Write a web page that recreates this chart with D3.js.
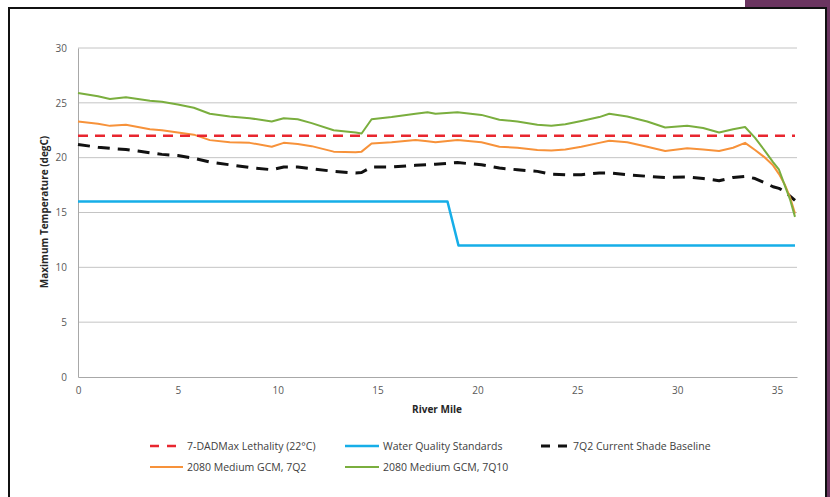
<!DOCTYPE html>
<html><head><meta charset="utf-8">
<script src="https://cdn.jsdelivr.net/npm/d3@7"></script>
<style>body{margin:0;background:#fff}svg{display:block}</style>
</head><body>
<svg id="c" width="830" height="497"></svg>
<script>
const miles = [0,1,1.6,2.4,3,3.6,4.2,5,5.8,6.6,7.6,8.6,9.7,10.3,11,11.7,12.8,13.9,14.2,14.7,15.7,16.9,17.5,17.9,19,20.2,21.1,22,23,23.7,24.4,25.2,26.1,26.6,27.5,28.5,29.4,30.5,31.3,32.1,32.8,33.4,33.9,34.4,34.8,35.1,35.4,35.65,35.9];
const gcm7Q10 = [25.9,25.6,25.35,25.5,25.35,25.2,25.1,24.85,24.55,24.0,23.75,23.6,23.3,23.6,23.5,23.15,22.5,22.3,22.2,23.5,23.7,24.0,24.15,24.0,24.15,23.9,23.45,23.3,23.0,22.9,23.05,23.35,23.7,24.0,23.75,23.3,22.75,22.9,22.7,22.3,22.6,22.8,21.8,20.6,19.6,18.9,17.4,16.2,14.6];
const gcm7Q2 = [23.3,23.1,22.9,23.0,22.8,22.6,22.5,22.3,22.1,21.6,21.4,21.35,21.0,21.35,21.25,21.05,20.55,20.5,20.55,21.3,21.4,21.6,21.5,21.4,21.6,21.4,21.0,20.9,20.7,20.65,20.75,21.0,21.35,21.55,21.4,21.0,20.6,20.85,20.75,20.6,20.9,21.35,20.7,20.0,19.3,18.5,17.5,16.4,14.9];
const baseline7Q2 = [21.2,20.95,20.85,20.75,20.6,20.45,20.3,20.2,19.95,19.6,19.35,19.1,18.9,19.15,19.15,19.0,18.75,18.6,18.65,19.15,19.15,19.3,19.35,19.4,19.55,19.35,19.05,18.9,18.75,18.5,18.45,18.45,18.6,18.6,18.45,18.3,18.2,18.25,18.1,17.9,18.2,18.3,18.1,17.7,17.35,17.2,16.9,16.5,16.1];
const wqsMiles = [0,18.5,19.05,35.9];
const wqsValues = [16,16,12,12];
const lethalityMiles = [0,35.9];
const lethalityValues = [22,22];
const xTicks = [0,5,10,15,20,25,30,35];
const yTicks = [0,5,10,15,20,25,30];
const legendLabels = ["7-DADMax Lethality (22\u00B0C)","Water Quality Standards","7Q2 Current Shade Baseline","2080 Medium GCM, 7Q2","2080 Medium GCM, 7Q10"];

const svg = d3.select("#c");
const font = "'Open Sans', 'Noto Sans', sans-serif";
svg.append("rect").attr("width",830).attr("height",497).attr("fill","#fff");
// frame & purple accents
svg.append("rect").attr("x",745).attr("y",0).attr("width",85).attr("height",8).attr("fill","#6b3560");
svg.append("rect").attr("x",826).attr("y",0).attr("width",4).attr("height",497).attr("fill","#6b3560");
svg.append("rect").attr("x",9).attr("y",8).attr("width",817).attr("height",500).attr("fill","none").attr("stroke","#111").attr("stroke-width",2);

const x = d3.scaleLinear().domain([0,36]).range([78,797]);
const y = d3.scaleLinear().domain([0,30]).range([377,48]);

// gridlines
svg.append("g").selectAll("line").data(yTicks.filter(d=>d>0)).join("line")
  .attr("x1",x(0)).attr("x2",x(36)).attr("y1",d=>y(d)).attr("y2",d=>y(d))
  .attr("stroke","#c4c4c4").attr("stroke-width",1);

const ya = svg.append("g").attr("transform",`translate(${x(0)},0)`)
  .call(d3.axisLeft(y).tickValues(yTicks).tickSize(0).tickPadding(11));
ya.select(".domain").attr("stroke","#a8a8a8");
ya.selectAll("text").attr("font-family",font).attr("font-size",10).attr("fill","#595959");

const xa = svg.append("g").attr("transform",`translate(0,${y(0)})`)
  .call(d3.axisBottom(x).tickValues(xTicks).tickSize(0).tickPadding(10));
xa.select(".domain").attr("stroke","#a8a8a8");
xa.selectAll("text").attr("font-family",font).attr("font-size",10).attr("fill","#595959");

svg.append("text").attr("x",437).attr("y",413).attr("text-anchor","middle")
  .attr("font-family",font).attr("font-size",10).attr("font-weight","bold").attr("fill","#262626").text("River Mile");
svg.append("text").attr("transform","translate(48,212) rotate(-90)").attr("text-anchor","middle")
  .attr("font-family",font).attr("font-size",10).attr("font-weight","bold").attr("fill","#262626").text("Maximum Temperature (degC)");

const line = d3.line().x(d=>x(d[0])).y(d=>y(d[1]));
const zip = (a,b)=>a.map((m,i)=>[m,b[i]]);

const series = [
  {data: zip(miles,baseline7Q2), color:"#111", w:3, dash:"12,8"},
  {data: zip(wqsMiles,wqsValues), color:"#16aee8", w:2.5, dash:null},
  {data: zip(miles,gcm7Q2), color:"#f7923a", w:2, dash:null},
  {data: zip(miles,gcm7Q10), color:"#7aae3e", w:2, dash:null},
  {data: zip(lethalityMiles,lethalityValues), color:"#e8262f", w:2.5, dash:"10,7"}
];
series.forEach(s=>{
  svg.append("path").attr("d",line(s.data)).attr("fill","none")
    .attr("stroke",s.color).attr("stroke-width",s.w)
    .attr("stroke-dasharray",s.dash).attr("stroke-linejoin","round");
});

// legend
const leg = [
  {label:legendLabels[0], color:"#e8262f", w:2.5, dash:"9,8", lx:150, ly:446, len:33},
  {label:legendLabels[1], color:"#16aee8", w:2.5, dash:null, lx:345, ly:446, len:34},
  {label:legendLabels[2], color:"#111", w:3, dash:"9,8", lx:541, ly:446, len:28},
  {label:legendLabels[3], color:"#f7923a", w:2, dash:null, lx:150, ly:467, len:33},
  {label:legendLabels[4], color:"#7aae3e", w:2, dash:null, lx:345, ly:467, len:34}
];
leg.forEach(l=>{
  svg.append("line").attr("x1",l.lx).attr("x2",l.lx+l.len).attr("y1",l.ly).attr("y2",l.ly)
    .attr("stroke",l.color).attr("stroke-width",l.w).attr("stroke-dasharray",l.dash);
  svg.append("text").attr("x",l.lx+l.len+4).attr("y",l.ly+3.7)
    .attr("font-family",font).attr("font-size",10.5).attr("fill","#404040").text(l.label);
});
</script>
</body></html>
